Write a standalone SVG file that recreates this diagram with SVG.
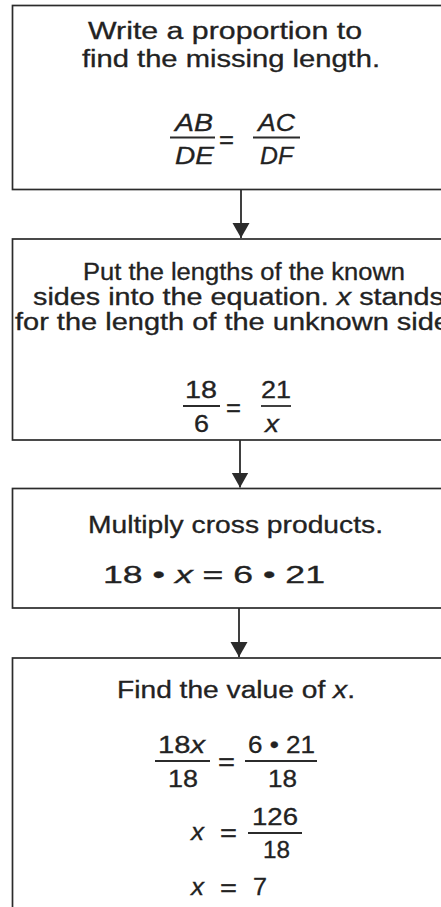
<svg xmlns="http://www.w3.org/2000/svg" width="441" height="907" viewBox="0 0 441 907">
<defs>
<style>
.box{fill:none;stroke:#2b2b2b;stroke-width:1.7}
.t{font-family:"Liberation Sans",Arial,sans-serif;font-size:23.5px;fill:#222;stroke:#222;stroke-width:0.3}
.i{font-style:italic}
.bar{stroke:#2b2b2b;stroke-width:1.8}
.conn{stroke:#2b2b2b;stroke-width:1.8;fill:none}
</style>
<marker id="arr" markerUnits="userSpaceOnUse" markerWidth="16" markerHeight="18" refX="15" refY="8.5" orient="auto" viewBox="0 0 16 17">
<path d="M0,0 L15,8.5 L0,17 Z" fill="#2b2b2b"/>
</marker>
</defs>
<rect width="441" height="907" fill="#fff"/>

<g id="step1">
<rect class="box" x="12.5" y="5.5" width="460" height="184"/>
<text class="t" x="88" y="39" textLength="274" lengthAdjust="spacingAndGlyphs">Write a proportion to</text>
<text class="t" x="82" y="67" textLength="298" lengthAdjust="spacingAndGlyphs">find the missing length.</text>
<text class="t i" x="175" y="131" textLength="38" lengthAdjust="spacingAndGlyphs">AB</text>
<line class="bar" x1="170" y1="137.5" x2="215" y2="137.5"/>
<text class="t i" x="175" y="164" textLength="39" lengthAdjust="spacingAndGlyphs">DE</text>
<text class="t" x="219" y="148" textLength="15" lengthAdjust="spacingAndGlyphs">=</text>
<text class="t i" x="258" y="131" textLength="37" lengthAdjust="spacingAndGlyphs">AC</text>
<line class="bar" x1="253" y1="137.5" x2="300" y2="137.5"/>
<text class="t i" x="260" y="164" textLength="33" lengthAdjust="spacingAndGlyphs">DF</text>
</g>

<g id="step2">
<rect class="box" x="12.5" y="239" width="460" height="201"/>
<text class="t" x="83" y="280" textLength="322" lengthAdjust="spacingAndGlyphs">Put the lengths of the known</text>
<text class="t" x="33" y="305" textLength="411" lengthAdjust="spacingAndGlyphs">sides into the equation. <tspan class="i">x</tspan> stands</text>
<text class="t" x="15" y="330" textLength="435" lengthAdjust="spacingAndGlyphs">for the length of the unknown side</text>
<text class="t" x="185" y="398" textLength="32" lengthAdjust="spacingAndGlyphs">18</text>
<line class="bar" x1="183" y1="406" x2="220" y2="406"/>
<text class="t" x="194" y="432" textLength="15" lengthAdjust="spacingAndGlyphs">6</text>
<text class="t" x="226" y="416" textLength="15" lengthAdjust="spacingAndGlyphs">=</text>
<text class="t" x="261" y="398" textLength="30" lengthAdjust="spacingAndGlyphs">21</text>
<line class="bar" x1="261" y1="406" x2="291" y2="406"/>
<text class="t i" x="265" y="432" textLength="14" lengthAdjust="spacingAndGlyphs">x</text>
</g>

<g id="step3">
<rect class="box" x="12.5" y="488.5" width="460" height="119.5"/>
<text class="t" x="88" y="533" textLength="295" lengthAdjust="spacingAndGlyphs">Multiply cross products.</text>
<text class="t" x="103" y="583" textLength="222" lengthAdjust="spacingAndGlyphs">18 • <tspan class="i">x</tspan> = 6 • 21</text>
</g>

<g id="step4">
<rect class="box" x="12.5" y="658" width="460" height="280"/>
<text class="t" x="117" y="698" textLength="238" lengthAdjust="spacingAndGlyphs">Find the value of <tspan class="i">x</tspan>.</text>
<text class="t" x="158" y="753" textLength="47" lengthAdjust="spacingAndGlyphs">18<tspan class="i">x</tspan></text>
<line class="bar" x1="155" y1="761" x2="210" y2="761"/>
<text class="t" x="168" y="787" textLength="30" lengthAdjust="spacingAndGlyphs">18</text>
<text class="t" x="218" y="770" textLength="17" lengthAdjust="spacingAndGlyphs">=</text>
<text class="t" x="248" y="753" textLength="67" lengthAdjust="spacingAndGlyphs">6 • 21</text>
<line class="bar" x1="245" y1="761" x2="317" y2="761"/>
<text class="t" x="268" y="787" textLength="29" lengthAdjust="spacingAndGlyphs">18</text>
<text class="t i" x="191" y="840" textLength="13" lengthAdjust="spacingAndGlyphs">x</text>
<text class="t" x="220" y="841" textLength="17" lengthAdjust="spacingAndGlyphs">=</text>
<text class="t" x="252" y="825" textLength="46" lengthAdjust="spacingAndGlyphs">126</text>
<line class="bar" x1="248" y1="833" x2="302" y2="833"/>
<text class="t" x="263" y="858" textLength="27" lengthAdjust="spacingAndGlyphs">18</text>
<text class="t i" x="191" y="895" textLength="13" lengthAdjust="spacingAndGlyphs">x</text>
<text class="t" x="220" y="896" textLength="17" lengthAdjust="spacingAndGlyphs">=</text>
<text class="t" x="253" y="895" textLength="14" lengthAdjust="spacingAndGlyphs">7</text>
</g>

<g id="connectors">
<line class="conn" x1="241" y1="190" x2="241" y2="238" marker-end="url(#arr)"/>
<line class="conn" x1="240" y1="440" x2="240" y2="487.5" marker-end="url(#arr)"/>
<line class="conn" x1="239" y1="608" x2="239" y2="657" marker-end="url(#arr)"/>
</g>
</svg>
